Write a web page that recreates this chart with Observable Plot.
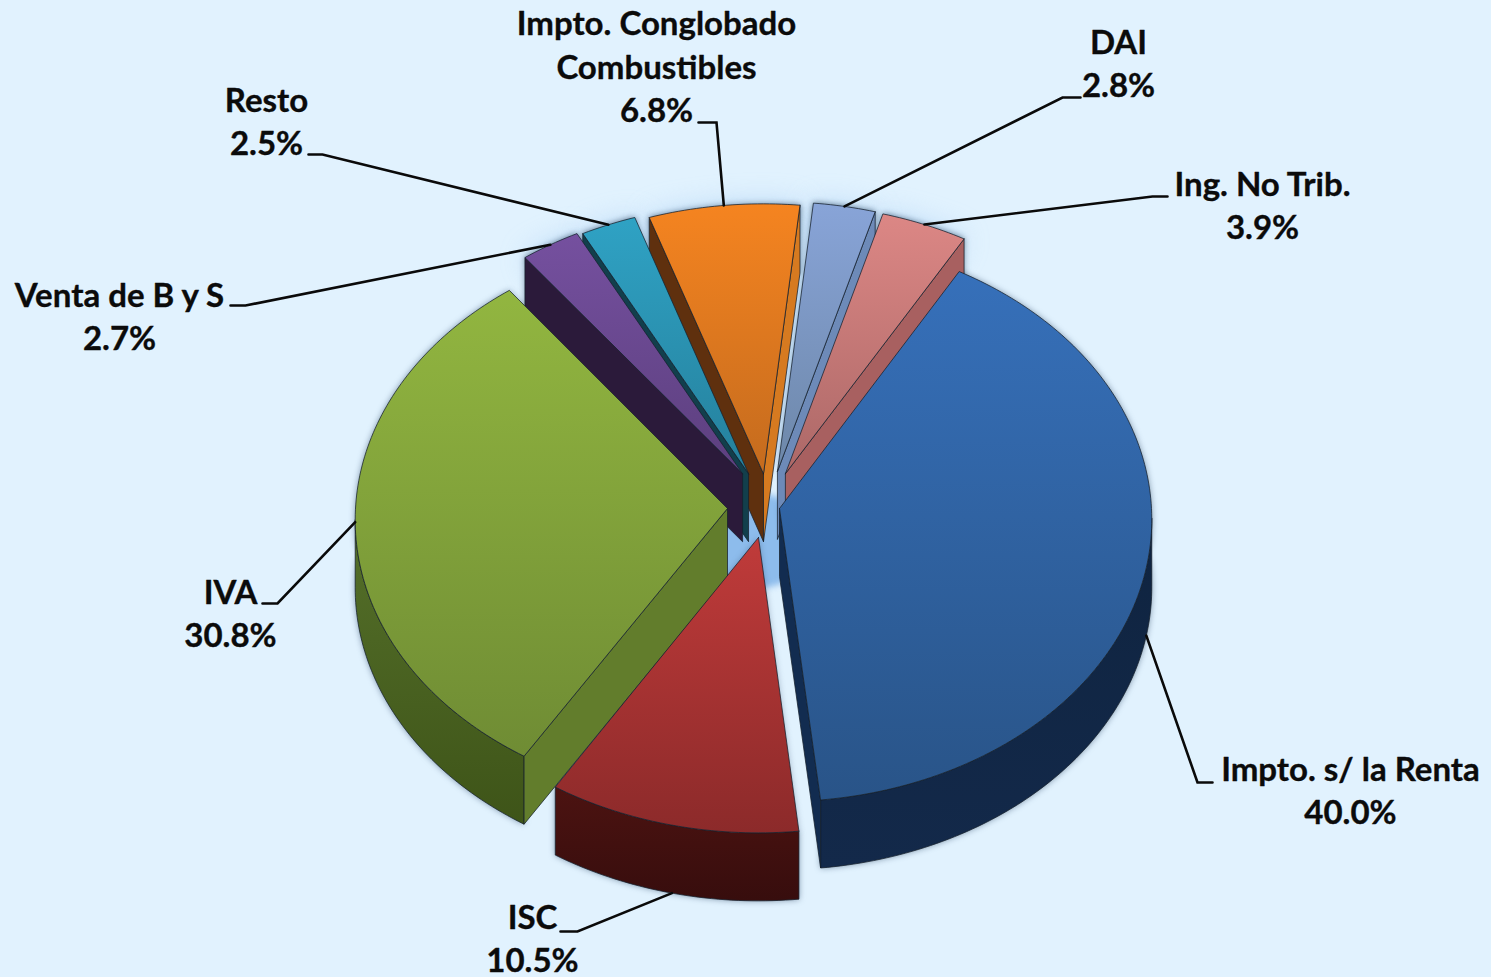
<!DOCTYPE html>
<html><head><meta charset="utf-8">
<style>html,body{margin:0;padding:0;background:#e1f2fe;overflow:hidden}svg{display:block}</style>
<script src="https://cdn.jsdelivr.net/npm/d3@7"></script>
<script src="https://cdn.jsdelivr.net/npm/@observablehq/plot@0.6"></script>
</head><body><script>
// Data, clockwise from the start angle
const categories = ["Impto. s/ la Renta","ISC","IVA","Venta de B y S","Resto","Impto. Conglobado\nCombustibles","DAI","Ing. No Trib."];
const shares = [40.0,10.5,30.8,2.7,2.5,6.8,2.8,3.9];

// Styles per slice: top gradient, rim wall, radial walls
const topFrom  = ["#3670ba","#c03b3a","#92b640","#75509f","#2fa2c4","#f58420","#88a4d8","#dc8785"];
const topTo    = ["#295488","#8c2a2a","#6f8c34","#5c3f7e","#25809c","#c46b1e","#6d87a8","#ac6867"];
const wallFrom = ["#0f2440","#4c1311","#55702a","#2b1a3a","#123f4c","#663510","#6d8ab8","#a86060"];
const wallTo   = ["#13294a","#370d0d","#3e5418","#2b1a3a","#123f4c","#663510","#6d8ab8","#a86060"];
const sideStart= ["#122c50","#4c1311","#627d2c","#2b1a3a","#123f4c","#5f300e","#6d8ab8","#a86060"];
const sideEnd  = ["#122c50","#4c1311","#627d2c","#2b1a3a","#123f4c","#d67a20","#6d8ab8","#a86060"];

// Layout: exploded offset of each slice, label centres, leader elbows
const explodeX = [19,-2,-33,-18,-12,3,17,25];
const explodeY = [0,-38,0,46,46,46,49,46];
const labelX = [1350,532,230,119,266,656,1118,1262];
const labelY = [788,936,611,314,119,64,61,203];
const kneeX  = [1197,577,277,245,322,716,1062,1152];
const tailX  = [1212,560,262,230,308,698,1080,1167];
const tailY  = [782,931,603,305,154,122,97,196];
const drawOrder = [5,6,7,4,3,0,2,1];

const W = 1491, H = 977, cx = 760, cy = 508, R = 372, k = 0.759, D = 10100, wallH = 68, startAngle = 30;

const total = d3.sum(shares);
let acc = startAngle;
const slices = shares.map((v,i) => {
  const a0 = acc, a1 = acc + v/total*360; acc = a1;
  return {i, a0, a1, ex: explodeX[i], ey: explodeY[i]};
});
const project = (X, Y, z = 0) => {
  const s = 1/(1 + Y/D);
  return {x: cx + X*s, y: cy - Y*k*s + z};
};
const rimPoint = (sl, a, z = 0, r = R) => {
  const t = a*Math.PI/180;
  return project(sl.ex + r*Math.sin(t), sl.ey + r*Math.cos(t), z);
};
const apex = (sl, z = 0) => project(sl.ex, sl.ey, z);
const arc = (sl, z = 0) => {
  const n = Math.ceil(sl.a1 - sl.a0), pts = [];
  for (let j = 0; j <= n; j++) pts.push(rimPoint(sl, sl.a0 + (sl.a1 - sl.a0)*j/n, z));
  return pts;
};
const down = p => ({x: p.x, y: p.y + wallH});
const closed = pts => [...pts, pts[0]];

const lineOpts = {x: "x", y: "y"};
const face = (pts, fill, extra = {}) => Plot.line(closed(pts), {...lineOpts, fill, stroke: "#16202c", strokeWidth: 1, strokeOpacity: 0.75, ...extra});

const marks = [];

// soft shadows beneath the pie
slices.filter(s => s.ey > 0).forEach(sl => {
  marks.push(Plot.line(closed([apex(sl), ...arc(sl)]), {...lineOpts, fill: "#8fc0f0", stroke: "none", fillOpacity: 0.5, imageFilter: "blur(14px)"}));
});
{
  const pts = d3.range(0, 360, 6).map(a => rimPoint({ex: -6, ey: -42}, a, 0, 62));
  marks.push(Plot.line(closed(pts), {...lineOpts, fill: "#8dbcec", stroke: "none", imageFilter: "blur(3px)"}));
}
slices.forEach(sl => {
  const top = arc(sl);
  const outline = [...top, ...top.map(down).reverse()];
  marks.push(Plot.line(closed(outline), {...lineOpts, fill: "#24405f", stroke: "none", fillOpacity: 0.55, imageFilter: "blur(3px)"}));
  marks.push(Plot.line(closed([apex(sl), top[0], top[top.length-1]]), {...lineOpts, fill: "#24405f", stroke: "none", fillOpacity: 0.35, imageFilter: "blur(3px)"}));
});

// slices, back to front
drawOrder.forEach(i => {
  const sl = slices[i];
  const top = arc(sl), A = apex(sl);
  // rim wall: only the stretches facing the viewer (moving left, clockwise on screen)
  let run = [];
  const flush = () => {
    if (run.length > 1) marks.push(face([...run, ...run.map(down).reverse()], `url(#w${i})`));
    run = [];
  };
  for (let j = 0; j < top.length - 1; j++) {
    if (top[j+1].x < top[j].x) { if (!run.length) run.push(top[j]); run.push(top[j+1]); }
    else flush();
  }
  flush();
  const S = top[0], E = top[top.length-1];
  if (S.x < A.x) marks.push(face([A, S, down(S), down(A)], sideStart[i]));
  if (A.x < E.x) marks.push(face([E, A, down(A), down(E)], sideEnd[i]));
  marks.push(face([A, ...top], `url(#t${i})`));
});

// leaders, computed from the middle of each slice
slices.forEach(sl => {
  const mid = (sl.a0 + sl.a1)/2;
  const end = rimPoint(sl, mid, mid > 90 && mid < 200 ? wallH : 0);
  marks.push(Plot.line([end, {x: kneeX[sl.i], y: tailY[sl.i]}, {x: tailX[sl.i], y: tailY[sl.i]}], {...lineOpts, stroke: "#0a0a0a", strokeWidth: 2.6, strokeLinejoin: "miter", strokeMiterlimit: 4}));
});

// labels
const labels = categories.map((c,i) => ({x: labelX[i], y: labelY[i], text: `${c}\n${shares[i].toFixed(1)}%`}));
marks.push(Plot.text(labels, {x: "x", y: "y", text: "text", fontFamily: "Lato", fontWeight: 700, fontSize: 33, lineHeight: 1.33, lineAnchor: "middle", textAnchor: "middle", fill: "#0b0b0b", stroke: "#0b0b0b", strokeWidth: 0.35}));

const svg = Plot.plot({
  width: W, height: H, margin: 0,
  x: {domain: [0, W], range: [0, W], axis: null},
  y: {domain: [0, H], range: [0, H], axis: null},
  style: {background: "#e1f2fe"},
  marks
});
const defs = d3.create("svg:defs");
const grad = (id, a, b) => {
  const g = defs.append("linearGradient").attr("id", id).attr("x1", 0).attr("y1", 0).attr("x2", 0).attr("y2", 1);
  g.append("stop").attr("offset", 0).attr("stop-color", a);
  g.append("stop").attr("offset", 1).attr("stop-color", b);
};
slices.forEach(s => { grad(`t${s.i}`, topFrom[s.i], topTo[s.i]); grad(`w${s.i}`, wallFrom[s.i], wallTo[s.i]); });
svg.insertBefore(defs.node(), svg.firstChild);
document.body.append(svg);
</script></body></html>
